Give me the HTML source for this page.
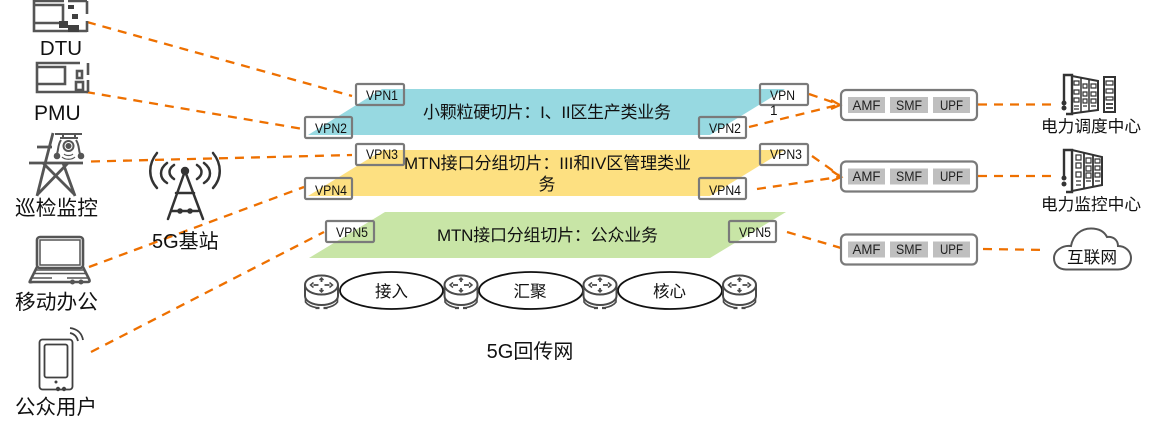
<!DOCTYPE html>
<html lang="zh">
<head>
<meta charset="utf-8">
<title>5G回传网</title>
<style>
html,body{margin:0;padding:0;background:#fff;width:1157px;height:431px;overflow:hidden}
svg{display:block}
text{font-family:"Liberation Sans","Noto Sans CJK SC",sans-serif;fill:#111}
.d{fill:none;stroke:#ee7000;stroke-width:2.300;stroke-dasharray:9 7}
.a{fill:none;stroke:#ee7000;stroke-width:2.300}
.b{fill:none;stroke:#7a7a7a;stroke-width:2.200}
.v{font-size:13.500px}
.g{fill:#bfbfbf}
.i{fill:none;stroke:#555;stroke-width:2.600}
.t{fill:none;stroke:#555;stroke-width:1.500}
.k{fill:#404040}
.n{font-size:14px;text-anchor:middle;fill:#222}
</style>
</head>
<body>
<svg width="1157" height="431" viewBox="0 0 1157 431" xmlns="http://www.w3.org/2000/svg">
<defs>
<g id="router" fill="none" stroke="#4a4a4a" stroke-width="2">
  <ellipse cx="0" cy="10" rx="16.500" ry="9.500"/>
  <path d="M-16.500 10V21C-16.500 26 -9 30 0 30S16.500 26 16.500 21V10"/>
  <path d="M-16 23V27C-14 30 -9 32 -4 33M16 23V27C14 30 9 32 4 33" stroke-width="1.600"/>
  <path d="M-8 10H-3M3 10H8M0 3V7M0 13V17" stroke-width="1.800"/>
  <path d="M-2 5L0 3L2 5M-2 15L0 17L2 15" stroke-width="1.500"/>
  <path d="M-8 7.500L-11 10L-8 12.500M8 7.500L11 10L8 12.500" stroke-width="1.500"/>
  <path d="M-6 33H-2M2 33H6" stroke-width="2.200"/>
</g>
<g id="nf">
  <rect class="b" x="841" y="0" width="136" height="30" rx="5"/>
  <rect class="g" x="848" y="7" width="37" height="16"/>
  <rect class="g" x="890" y="7" width="38" height="16"/>
  <rect class="g" x="933" y="7" width="37" height="16"/>
</g>
</defs>

<!-- slices -->
<polygon points="382,89 308,135 710,135 785,89" fill="#97d9e1"/>
<polygon points="383,150 308,196 710,196 785,150" fill="#fde081"/>
<polygon points="385,212 309,258 710,258 786,212" fill="#c8e5a6"/>

<text x="423" y="118" font-size="17" textLength="248">小颗粒硬切片：I、II区生产类业务</text>
<text x="404" y="169" font-size="17" textLength="287">MTN接口分组切片：III和IV区管理类业</text>
<text x="547" y="190" font-size="17" text-anchor="middle">务</text>
<text x="437" y="241" font-size="17" textLength="221">MTN接口分组切片：公众业务</text>

<!-- VPN boxes -->
<g>
<rect class="b" x="356" y="84" width="48" height="21" rx="1.500"/>
<rect class="b" x="305" y="117" width="47" height="21" rx="1.500"/>
<rect class="b" x="356" y="144" width="48" height="21" rx="1.500"/>
<rect class="b" x="305" y="178" width="47" height="21" rx="1.500"/>
<rect class="b" x="326" y="221" width="48" height="21" rx="1.500"/>
<rect class="b" x="760" y="84" width="48" height="21" rx="1.500"/>
<rect class="b" x="699" y="117" width="47" height="21" rx="1.500"/>
<rect class="b" x="760" y="144" width="48" height="21" rx="1.500"/>
<rect class="b" x="699" y="178" width="47" height="21" rx="1.500"/>
<rect class="b" x="729" y="221" width="47" height="21" rx="1.500"/>
</g>
<text class="v" x="366" y="100" textLength="32" lengthAdjust="spacingAndGlyphs">VPN1</text>
<text class="v" x="315" y="133" textLength="32" lengthAdjust="spacingAndGlyphs">VPN2</text>
<text class="v" x="366" y="159" textLength="32" lengthAdjust="spacingAndGlyphs">VPN3</text>
<text class="v" x="315" y="195" textLength="32" lengthAdjust="spacingAndGlyphs">VPN4</text>
<text class="v" x="336" y="237" textLength="32" lengthAdjust="spacingAndGlyphs">VPN5</text>
<text class="v" x="770" y="100" textLength="25" lengthAdjust="spacingAndGlyphs">VPN</text>
<text class="v" x="770" y="115">1</text>
<text class="v" x="709" y="133" textLength="32" lengthAdjust="spacingAndGlyphs">VPN2</text>
<text class="v" x="770" y="159" textLength="32" lengthAdjust="spacingAndGlyphs">VPN3</text>
<text class="v" x="709" y="195" textLength="32" lengthAdjust="spacingAndGlyphs">VPN4</text>
<text class="v" x="739" y="237" textLength="32" lengthAdjust="spacingAndGlyphs">VPN5</text>

<!-- connectors -->
<path class="d" d="M87 22L352 96"/>
<path class="d" d="M86 92L303 129"/>
<path class="d" d="M91 161.500L352 155"/>
<path class="d" d="M89 267L304 187"/>
<path class="d" d="M91 352L324 232"/>
<path class="d" d="M809 94L838 104"/>
<path class="d" d="M749 127L838 105"/>
<path class="d" d="M812 156L839 175"/>
<path class="d" d="M757 189L839 177"/>
<path class="d" d="M787 232L841 248"/>
<path class="d" d="M978 104.500L1052 104.500"/>
<path class="d" d="M978 176L1057 176"/>
<path class="d" d="M983 249L1047 250"/>
<path class="a" d="M831 100L840 105L831 109"/>
<path class="a" d="M832 171L841 177L832 181"/>

<!-- network functions -->
<use href="#nf" y="90"/>
<use href="#nf" y="161.500"/>
<use href="#nf" y="234.500"/>
<text class="n" x="866.500" y="110" textLength="28" lengthAdjust="spacingAndGlyphs">AMF</text><text class="n" x="909" y="110" textLength="26" lengthAdjust="spacingAndGlyphs">SMF</text><text class="n" x="951.500" y="110" textLength="23" lengthAdjust="spacingAndGlyphs">UPF</text>
<text class="n" x="866.500" y="181" textLength="28" lengthAdjust="spacingAndGlyphs">AMF</text><text class="n" x="909" y="181" textLength="26" lengthAdjust="spacingAndGlyphs">SMF</text><text class="n" x="951.500" y="181" textLength="23" lengthAdjust="spacingAndGlyphs">UPF</text>
<text class="n" x="866.500" y="254" textLength="28" lengthAdjust="spacingAndGlyphs">AMF</text><text class="n" x="909" y="254" textLength="26" lengthAdjust="spacingAndGlyphs">SMF</text><text class="n" x="951.500" y="254" textLength="23" lengthAdjust="spacingAndGlyphs">UPF</text>

<!-- transport -->
<g fill="none" stroke="#111" stroke-width="1.800">
<ellipse cx="391.500" cy="290.500" rx="51.500" ry="18.500"/>
<ellipse cx="531" cy="290.500" rx="52" ry="18.500"/>
<ellipse cx="670" cy="290.500" rx="52" ry="18.500"/>
</g>
<use href="#router" x="321.500" y="275"/>
<use href="#router" x="461" y="275"/>
<use href="#router" x="600" y="275"/>
<use href="#router" x="739.500" y="275"/>
<text x="391.500" y="297" font-size="16.500" text-anchor="middle">接入</text>
<text x="530" y="297" font-size="16.500" text-anchor="middle">汇聚</text>
<text x="669.500" y="297" font-size="16.500" text-anchor="middle">核心</text>
<text x="530" y="358" font-size="20" text-anchor="middle">5G回传网</text>

<!-- DTU icon -->
<g class="i">
<path d="M64 1H34V31H87M87 21V32M87 1V14M68 1H87"/>
<path d="M34 5H63V22M34 23H63"/>
</g>
<g class="k">
<rect x="68" y="5" width="6" height="4"/>
<rect x="72" y="14" width="6" height="5"/>
<rect x="59" y="21" width="9" height="7"/>
<rect x="68" y="25" width="11" height="7"/>
</g>
<text x="61" y="55" font-size="20.500" text-anchor="middle">DTU</text>

<!-- PMU icon -->
<g class="i">
<path d="M80 63H37V92H88M88 63V75M88 80V92"/>
<path d="M37 67H65V84H37"/>
<rect x="77" y="71" width="5" height="7"/>
<rect x="76" y="82" width="7" height="8"/>
</g>
<text x="34" y="120" font-size="21">PMU</text>

<!-- tower + drone -->
<g fill="none" stroke="#555" stroke-width="2.800">
<path d="M53 133L46 160L37 196M63 163L75 196M43 163L75 195M68 163L37 195"/>
<path d="M29 163H83M37 147H52"/>
</g>
<g fill="none" stroke="#555" stroke-width="2">
<path d="M55 134H82M60 138H78M63 134V138M75 134V138"/>
<circle cx="68.500" cy="146" r="5"/>
<circle cx="68.500" cy="146" r="2" fill="#555"/>
<path d="M61 140C57 146 59 151 56 156M76 140C80 146 78 151 81 156"/>
<path d="M64 154C66 156 71 156 73 154M62 157C65 160 72 160 75 157" stroke-width="1.200"/>
<circle cx="57" cy="156" r="2.300" fill="#555"/>
<circle cx="81" cy="156" r="2.300" fill="#555"/>
</g>
<text x="15" y="215" font-size="20.700" textLength="83">巡检监控</text>

<!-- 5G antenna -->
<g fill="none" stroke="#333" stroke-width="2.500" stroke-linecap="round">
<path d="M157 153C148 164 148 178 157 188"/>
<path d="M167 163C159 169 159 178 167 183"/>
<path d="M174 165C168 169 168 175 174 179"/>
<path d="M213 153C222 164 222 178 213 188"/>
<path d="M204 163C212 169 212 178 204 183"/>
<path d="M197 165C203 169 203 175 197 179"/>
<path d="M185 171L168 219M185 171L203 219M176 193H194M172 211H198"/>
</g>
<circle cx="185" cy="171" r="4.200" fill="#333"/>
<circle cx="180" cy="211" r="2.800" fill="#333"/>
<circle cx="190" cy="211" r="2.800" fill="#333"/>
<text x="152" y="248" font-size="20">5G基站</text>

<!-- laptop -->
<g class="i">
<rect x="37" y="237" width="46" height="31" rx="3"/>
<path d="M37 267L30 281C29 283 30 282 33 282H87C90 282 90 281 89 279L83 267"/>
</g>
<g class="t">
<rect x="40" y="240" width="40" height="25"/>
<path d="M36 270H84M34 273.500H86M32 278H52M67 278H88"/>
</g>
<circle cx="72.500" cy="282" r="2.500" fill="#555"/>
<circle cx="81" cy="282" r="2.500" fill="#555"/>
<text x="15" y="309" font-size="20.700" textLength="83">移动办公</text>

<!-- phone -->
<g fill="none" stroke="#404040" stroke-width="1.800">
<rect x="39.500" y="339.500" width="33" height="50" rx="3"/>
<rect x="44.500" y="344.500" width="23" height="33" rx="2"/>
<path d="M70 333C75 334 77 337 78 341"/>
<path d="M70 328C78 329 82 334 83 340"/>
</g>
<circle cx="56" cy="382" r="1.500" fill="#404040"/>
<circle cx="58" cy="389" r="2.200" fill="#404040"/>
<circle cx="64" cy="389" r="2.200" fill="#404040"/>
<text x="15" y="414" font-size="20.500" textLength="82">公众用户</text>

<!-- data centre 1 -->
<g fill="none" stroke="#333" stroke-width="2.400">
<path d="M1064 102V75H1072V114H1066"/>
<path d="M1072 76L1098 81V110L1072 113.500" stroke-width="2"/>
<path d="M1081 78V112M1089 80V111" stroke-width="1.500"/>
<rect x="1104" y="77" width="11" height="35" stroke-width="2"/>
<path d="M1106 81H1113V85H1106ZM1106 89H1113V93H1106ZM1106 97H1113V100H1106Z" stroke-width="1.200"/>
<path d="M1106 104H1113M1106 108H1113" stroke-width="1.800"/>
<path d="M1074 81H1079V85H1074ZM1074 90H1079V94H1074ZM1074 98H1079V102H1074ZM1083 84H1087V88H1083ZM1083 92H1087V96H1083ZM1083 99H1087V103H1083ZM1091 84H1096V88H1091ZM1091 92H1096V96H1091ZM1091 99H1096V103H1091Z" stroke-width="1.200"/>
<path d="M1074 106H1079M1074 109H1079M1083 106H1087M1091 106H1096" stroke-width="1.200"/>
</g>
<circle cx="1064" cy="103" r="2.500" fill="#333"/>
<circle cx="1064" cy="108" r="2.500" fill="#333"/>
<text x="1041" y="132" font-size="16.700" textLength="100">电力调度中心</text>

<!-- data centre 2 -->
<g fill="none" stroke="#333" stroke-width="2.400">
<path d="M1064 176V150H1072V192H1066"/>
<path d="M1072 150L1102 157V185L1072 191" stroke-width="2"/>
<path d="M1084 153V189M1093 155V187" stroke-width="1.800"/>
<path d="M1076 155H1081V160H1076ZM1076 163H1081V168H1076ZM1076 172H1081V177H1076ZM1086 158H1091V163H1086ZM1086 166H1091V171H1086ZM1086 173H1091V178H1086ZM1095 159H1100V163H1095ZM1095 166H1100V170H1095ZM1095 173H1100V177H1095Z" stroke-width="1.200"/>
<path d="M1076 181H1081M1076 185H1081M1086 181H1091M1095 181H1100" stroke-width="1.200"/>
</g>
<circle cx="1064" cy="178" r="2.500" fill="#333"/>
<circle cx="1064" cy="184" r="2.500" fill="#333"/>
<text x="1041" y="210" font-size="16.700" textLength="100">电力监控中心</text>

<!-- cloud -->
<path d="M1066 269.500H1118C1127 269.500 1131 264 1131 258C1131 251 1125 246 1118 246C1118 240 1113 236 1107 237C1104 231 1098 228.500 1091 228.500C1081 228.500 1073 235 1071 246C1062 245 1054 251 1054 258C1054 265 1059 269.500 1066 269.500Z" fill="#fff" stroke="#555" stroke-width="2"/>
<text x="1092" y="263" font-size="16.700" text-anchor="middle">互联网</text>
</svg>
</body>
</html>
